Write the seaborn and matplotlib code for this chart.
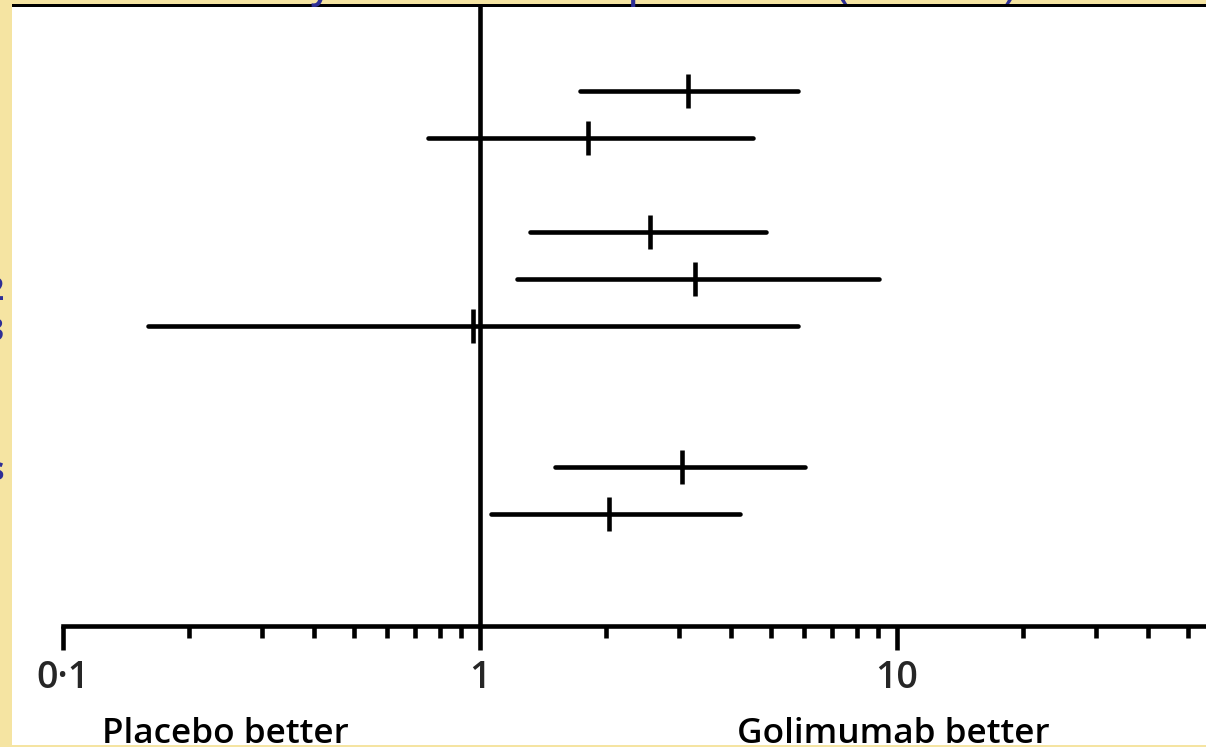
import numpy as np
import pandas as pd
import matplotlib
matplotlib.use("Agg")
import matplotlib.pyplot as plt
from matplotlib.patches import Rectangle
from matplotlib.ticker import NullFormatter
import seaborn as sns

# DATA (odds ratios with 95% CI)
row_pos = [0, 1, 3, 4, 5, 8, 9]
estimate = [3.15, 1.82, 2.56, 3.28, 0.96, 3.05, 2.04]
ci_low = [1.74, 0.75, 1.32, 1.23, 0.16, 1.51, 1.06]
ci_high = [5.79, 4.52, 4.85, 9.05, 5.79, 6.02, 4.20]

major_ticks = [0.1, 1, 10]
major_labels = ["0·1", "1", "10"]
minor_ticks = [0.2, 0.3, 0.4, 0.5, 0.6, 0.7, 0.8, 0.9,
               2, 3, 4, 5, 6, 7, 8, 9, 20, 30, 40, 50]
left_text = "Placebo better"
right_text = "Golimumab better"
title_text = "Physical function improvement (subscale)"
edge_chars = ["1", "1", "1", "2", "3", "s", "1"]
edge_y_px = [60, 107, 155, 300, 341, 480, 526]

# STYLE
W, H = 1206, 747
YELLOW = "#F5E4A2"
BLUE = "#2E2E96"
LW = 3.3

sns.set_theme(style="white")
plt.rcParams["font.family"] = ["Open Sans", "DejaVu Sans"]

df = pd.DataFrame({"row": row_pos, "est": estimate, "lo": ci_low, "hi": ci_high})

fig = plt.figure(figsize=(W / 100, H / 100), dpi=100, facecolor="white")
ax = fig.add_axes([12 / W, (H - 742) / H, (W - 12) / W, 737 / H])
ax.set_facecolor("white")
ax.set_xscale("log")

# pixel layout -> data limits
x0_px, dec_px = 63, 417  # 0.1 at x=63, one decade = 417 px
ax.set_xlim(10 ** (-1 - (x0_px - 12) / dec_px), 10 ** (-1 + (W - x0_px) / dec_px))
row0_px, row_step = 91, 47
ax.set_ylim((742 - row0_px) / row_step, (5 - row0_px) / row_step)

spine_frac = (742 - 626) / 737

# confidence intervals
lc = ax.hlines(df["row"], df["lo"], df["hi"], color="black", linewidth=LW)
lc.set_capstyle("round")

# point estimates
sns.scatterplot(data=df, x="est", y="row", marker="|", s=600, color="black",
                linewidth=LW, ax=ax, legend=False, zorder=3)

# line of no effect
ax.axvline(1, ymin=spine_frac, ymax=1, color="black", linewidth=LW, zorder=2)

for s in ["left", "right", "top"]:
    ax.spines[s].set_visible(False)
ax.spines["bottom"].set_position(("axes", spine_frac))
ax.spines["bottom"].set_linewidth(LW)
ax.spines["bottom"].set_color("black")
ax.spines["bottom"].set_bounds(0.1, ax.get_xlim()[1])

ax.set_xticks(major_ticks)
ax.set_xticklabels(major_labels)
ax.set_xticks(minor_ticks, minor=True)
ax.xaxis.set_minor_formatter(NullFormatter())
ax.tick_params(axis="x", which="major", direction="out", length=17, width=LW,
               color="black", labelsize=27, pad=7, bottom=True)
ax.tick_params(axis="x", which="minor", direction="out", length=8.5, width=LW,
               color="black", bottom=True)
for lab in ax.get_xticklabels():
    lab.set_fontweight("semibold")
ax.set_yticks([])
ax.set_xlabel("")
ax.set_ylabel("")

# "better" labels under the axis
tr = ax.get_xaxis_transform()
ax.text(10 ** (-1 + (225 - x0_px) / dec_px), -0.002, left_text, transform=tr,
        ha="center", va="baseline", fontsize=25.3, fontweight="semibold",
        color="black", clip_on=False)
ax.text(10 ** (-1 + (893 - x0_px) / dec_px), -0.002, right_text, transform=tr,
        ha="center", va="baseline", fontsize=25.3, fontweight="semibold",
        color="black", clip_on=False)

# slide frame (yellow strips, black rule) drawn over the chart
def px_rect(x, y, w, h, color, z):
    fig.add_artist(Rectangle((x / W, 1 - (y + h) / H), w / W, h / H,
                             transform=fig.transFigure, facecolor=color,
                             edgecolor="none", zorder=z))

px_rect(0, 0, W, 4, YELLOW, 10)
px_rect(0, 0, 12, H, YELLOW, 10)
px_rect(0, 745, W, 2, YELLOW, 10)
px_rect(12, 4, W - 12, 3, "black", 11)

# cut-off slide text at the top and left edges
fig.text(640 / W, 1 + 2 / H, title_text, ha="center", va="baseline",
         fontsize=27, fontweight="semibold", color=BLUE, zorder=12)
for ch, yp in zip(edge_chars, edge_y_px):
    fig.text(4 / W, 1 - yp / H, ch, ha="right", va="baseline", fontsize=24,
             fontweight="bold", color=BLUE, zorder=12)

fig.savefig("out.png", dpi=100, facecolor="white")
